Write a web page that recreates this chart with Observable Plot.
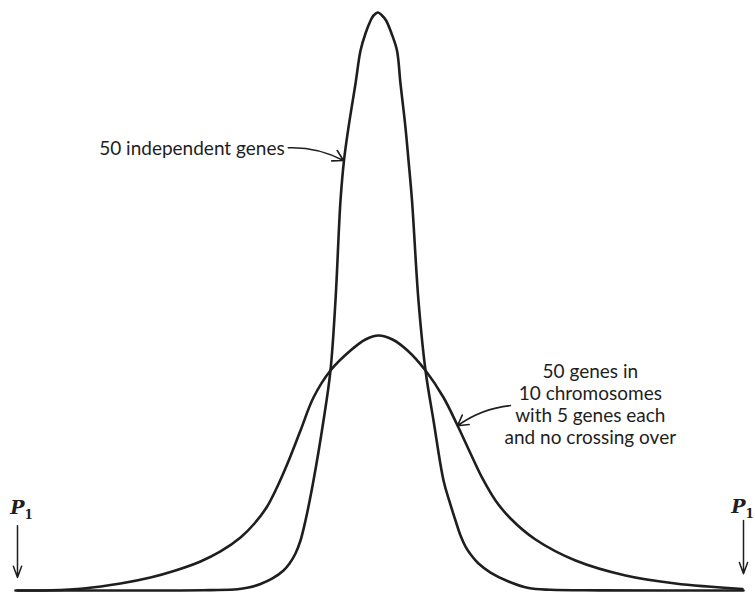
<!DOCTYPE html>
<html><head><meta charset="utf-8">
<script src="https://cdn.jsdelivr.net/npm/d3@7"></script>
<script src="https://cdn.jsdelivr.net/npm/@observablehq/plot@0.6"></script>
<style>body{margin:0;background:#fff} #chart svg{display:block}</style>
</head><body><div id="chart"></div>
<script>
// Phenotype scale: parental types (P1) at -50 and +50; frequency relative to the narrow peak (=100)
const narrowX = [-50, -35.81, -27.55, -23.42, -19.70, -18.18, -16.53, -14.88, -13.36, -12.53, -11.71, -11.02, -10.33, -9.23, -7.85, -6.89, -6.20, -5.51, -5.03, -4.41, -3.44, -2.75, -2.07, -1.36, -0.96, -0.34, 0.21, 0.77, 1.52, 2.27, 2.75, 3.44, 3.86, 4.34, 5.23, 6.20, 7.30, 8.68, 9.50, 10.33, 11.02, 11.71, 12.53, 13.50, 15.15, 17.63, 20.39, 23.42, 30.30, 50];
const narrowY = [0, 0, 0, 0.07, 0.21, 0.52, 1.12, 2.08, 3.46, 4.67, 6.40, 8.65, 12.11, 19.03, 29.41, 38.06, 50.17, 67.47, 74.39, 80.10, 87.72, 93.43, 96.37, 98.62, 99.48, 100, 99.48, 98.62, 96.37, 93.43, 87.72, 80.10, 74.39, 67.47, 50.17, 38.06, 29.41, 19.03, 15.40, 12.11, 9.52, 7.61, 6.06, 4.67, 3.11, 1.56, 0.43, 0.12, 0.03, 0];
const wideX = [-50.28, -45.45, -40.91, -35.81, -31.68, -28.24, -24.79, -22.04, -19.28, -17.36, -15.70, -14.33, -12.81, -11.02, -9.23, -6.89, -4.13, -2.07, -0.28, 1.65, 3.72, 6.20, 8.68, 10.61, 12.40, 14.05, 15.84, 17.91, 21.35, 26.86, 33.75, 40.63, 49.86];
const wideY = [0, 0.05, 0.35, 1.21, 2.25, 3.46, 5.02, 6.75, 9.17, 11.59, 14.36, 17.65, 21.97, 27.68, 33.39, 38.06, 41.52, 43.43, 44.12, 43.43, 41.52, 38.06, 33.39, 28.55, 23.70, 19.38, 15.57, 12.46, 8.82, 5.19, 2.60, 1.21, 0.26];

const seriesLabels = ["50 independent genes", "50 genes in\n10 chromosomes\nwith 5 genes each\nand no crossing over"];
const labelX = [-13.2, 28.9];
const labelY = [75.3, 25.3];
const labelAnchor = ["end", "middle"];
const pointerFrom = [[-12.7, 76.6], [17.9, 32.0]];
const pointerTo = [[-5.1, 74.4], [10.6, 28.5]];
const pointerBend = [15, -15];

const parentLabel = "P";
const parentSub = "1";
const parentX = [-50, 50];
const parentLabelX = [-50, 49.3];
const parentArrowTop = [11.2, 12.1];
const parentArrowTip = [2.25, 2.9];
const parentLabelY = [13.2, 13.4];

const ink = "#1e1e1e";
const narrow = narrowX.map((x, i) => ({x, y: narrowY[i]}));
const wide = wideX.map((x, i) => ({x, y: wideY[i]}));
const labels = seriesLabels.map((t, i) => ({t, x: labelX[i], y: labelY[i], a: labelAnchor[i]}));
const pointers = pointerFrom.map((f, i) => ({x1: f[0], y1: f[1], x2: pointerTo[i][0], y2: pointerTo[i][1], bend: pointerBend[i]}));
const parents = parentX.map((x, i) => ({x, lx: parentLabelX[i], top: parentArrowTop[i], tip: parentArrowTip[i], ly: parentLabelY[i]}));

const chart = Plot.plot({
  width: 755,
  height: 595,
  margin: 0,
  x: {domain: [-50, 50], range: [17, 743], axis: null},
  y: {domain: [0, 100], range: [590, 12], axis: null},
  marks: [
    Plot.line(wide, {x: "x", y: "y", curve: "catmull-rom", stroke: ink, strokeWidth: 2.6}),
    Plot.line(narrow, {x: "x", y: "y", curve: "catmull-rom", stroke: ink, strokeWidth: 2.6}),
    Plot.text(labels.filter(d => d.a === "end"), {x: "x", y: "y", text: "t", textAnchor: "end", lineAnchor: "bottom", fontSize: 19, fontFamily: "Lato", fill: ink}),
    Plot.text(labels.filter(d => d.a === "middle"), {x: "x", y: "y", text: "t", textAnchor: "middle", lineAnchor: "bottom", lineHeight: 1.17, fontSize: 19, fontFamily: "Lato", fill: ink}),
    ...pointers.map(p => Plot.arrow([p], {x1: "x1", y1: "y1", x2: "x2", y2: "y2", bend: p.bend, headLength: 11, strokeWidth: 1.6, stroke: ink})),
    Plot.arrow(parents, {x1: "x", x2: "x", y1: "top", y2: "tip", headLength: 12, headAngle: 40, strokeWidth: 1.5, stroke: ink}),
    Plot.text(parents, {x: "lx", y: "ly", text: () => parentLabel, textAnchor: "middle", lineAnchor: "bottom", fontSize: 19, fontFamily: "DejaVu Serif", fontStyle: "italic", fontWeight: "bold", fill: ink}),
    Plot.text(parents, {x: "lx", y: "ly", text: () => parentSub, dx: 7, dy: 5, textAnchor: "start", lineAnchor: "bottom", fontSize: 12, fontFamily: "DejaVu Serif", fontWeight: "bold", fill: ink})
  ]
});
document.getElementById("chart").append(chart);
</script>
</body></html>
